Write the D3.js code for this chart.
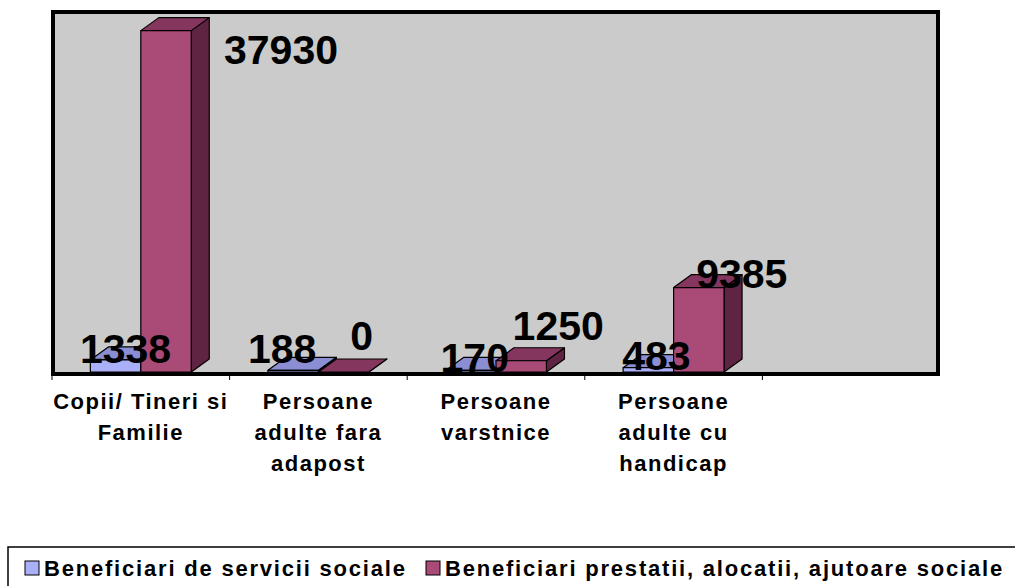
<!DOCTYPE html>
<html lang="en">
<head>
    <meta charset="UTF-8">
    <title>Beneficiari</title>
    <script src="https://d3js.org/d3.v7.min.js"></script>
    <style>
        body {
            margin: 0;
            background: #fff;
            font-family: "Liberation Sans", Arial, sans-serif;
        }
        text {
            font-weight: bold;
            fill: #000;
        }
    </style>
</head>
<body>
    <div class="chart"></div>

    <script>
        const categories = [
            ['Copii/ Tineri si', 'Familie'],
            ['Persoane', 'adulte fara', 'adapost'],
            ['Persoane', 'varstnice'],
            ['Persoane', 'adulte cu', 'handicap']
        ];
        const seriesNames = ['Beneficiari de servicii sociale', 'Beneficiari prestatii, alocatii, ajutoare sociale'];
        const servicii = [1338, 188, 170, 483];
        const prestatii = [37930, 0, 1250, 9385];

        const svgWidth = 1015;
        const svgHeight = 586;
        const plot = { left: 53, right: 938, top: 12, bottom: 372 };
        const depth = { dx: 18, dy: -13 };

        // front / top / side colours per series
        const colors = [
            { front: '#aab0f8', top: '#8b8ed2', side: '#5c5f9c' },
            { front: '#a94a77', top: '#84365e', side: '#5f2441' }
        ];

        // Excel drops its labels in odd places, nudge them to match
        const labelNudge = [
            [[10, 3], [-11, -7], [4, 2], [8, 2]],
            [[115, 33], [18, -22], [37, -21], [43, 0]]
        ];

        const svg = d3.select('.chart')
            .append('svg')
            .attr('width', svgWidth)
            .attr('height', svgHeight);

        // 4 categories plus one empty slot on the right, as in the original
        const slots = d3.range(categories.length + 1);
        const x = d3.scaleBand()
            .domain(slots)
            .range([52, 940])
            .padding(0);

        const xs = d3.scaleBand()
            .domain([0, 1])
            .range([0, x.bandwidth()])
            .paddingInner(0)
            .paddingOuter(0.76);

        const y = d3.scaleLinear()
            .domain([0, 40000])
            .range([plot.bottom, plot.top]);

        // plot area
        svg.append('rect')
            .attr('x', plot.left)
            .attr('y', plot.top)
            .attr('width', plot.right - plot.left)
            .attr('height', y(0) + 2 - plot.top)
            .attr('fill', '#cbcbcb')
            .attr('stroke', '#000')
            .attr('stroke-width', 4);

        // ticks between categories
        svg.append('g')
            .selectAll('line')
            .data(slots)
            .enter()
            .append('line')
            .attr('x1', d => x(d))
            .attr('x2', d => x(d))
            .attr('y1', y(0) + 3)
            .attr('y2', y(0) + 8)
            .attr('stroke', '#000')
            .attr('stroke-width', 1);

        const series = [servicii, prestatii];
        const bars = [];
        categories.forEach((c, i) => {
            series.forEach((vals, s) => {
                bars.push({ i, s, value: vals[i] });
            });
        });

        const barG = svg.append('g');
        bars.forEach(b => {
            const x0 = x(b.i) + xs(b.s);
            const x1 = x0 + xs.bandwidth();
            const y0 = y(0);
            const y1 = y(b.value);
            const { dx, dy } = depth;
            const col = colors[b.s];
            const g = barG.append('g')
                .attr('stroke', '#000')
                .attr('stroke-width', 1.2)
                .attr('stroke-linejoin', 'round');
            // side
            g.append('path')
                .attr('d', `M${x1},${y0}L${x1 + dx},${y0 + dy}L${x1 + dx},${y1 + dy}L${x1},${y1}Z`)
                .attr('fill', col.side);
            // top
            g.append('path')
                .attr('d', `M${x0},${y1}L${x0 + dx},${y1 + dy}L${x1 + dx},${y1 + dy}L${x1},${y1}Z`)
                .attr('fill', col.top);
            // front
            g.append('rect')
                .attr('x', x0)
                .attr('y', y1)
                .attr('width', x1 - x0)
                .attr('height', y0 - y1)
                .attr('fill', col.front);
        });

        // axis line
        svg.append('line')
            .attr('x1', plot.left - 2)
            .attr('x2', plot.right + 2)
            .attr('y1', y(0) + 2)
            .attr('y2', y(0) + 2)
            .attr('stroke', '#000')
            .attr('stroke-width', 4);

        // value labels
        svg.append('g')
            .selectAll('text')
            .data(bars)
            .enter()
            .append('text')
            .attr('x', d => x(d.i) + xs(d.s) + xs.bandwidth() / 2 + labelNudge[d.s][d.i][0])
            .attr('y', d => y(d.value) + labelNudge[d.s][d.i][1])
            .attr('text-anchor', 'middle')
            .style('font-size', '41px')
            .text(d => d.value);

        // category labels
        const catG = svg.append('g');
        categories.forEach((lines, i) => {
            const t = catG.append('text')
                .attr('text-anchor', 'middle')
                .style('font-size', '22px')
                .style('letter-spacing', '1.5px');
            lines.forEach((line, k) => {
                t.append('tspan')
                    .attr('x', x(i) + x.bandwidth() / 2)
                    .attr('y', 409 + k * 31)
                    .text(line);
            });
        });

        // legend
        const leg = svg.append('g');
        leg.append('rect')
            .attr('x', 8)
            .attr('y', 547)
            .attr('width', 1020)
            .attr('height', 60)
            .attr('fill', 'none')
            .attr('stroke', '#000')
            .attr('stroke-width', 1.5);

        const legendX = [25, 426];
        seriesNames.forEach((name, s) => {
            leg.append('rect')
                .attr('x', legendX[s])
                .attr('y', 561)
                .attr('width', 14)
                .attr('height', 14)
                .attr('fill', colors[s].front)
                .attr('stroke', '#000')
                .attr('stroke-width', 1);
            leg.append('text')
                .attr('x', legendX[s] + 19)
                .attr('y', 576)
                .style('font-size', '22px')
                .style('letter-spacing', '1.8px')
                .text(name);
        });
    </script>
</body>
</html>
